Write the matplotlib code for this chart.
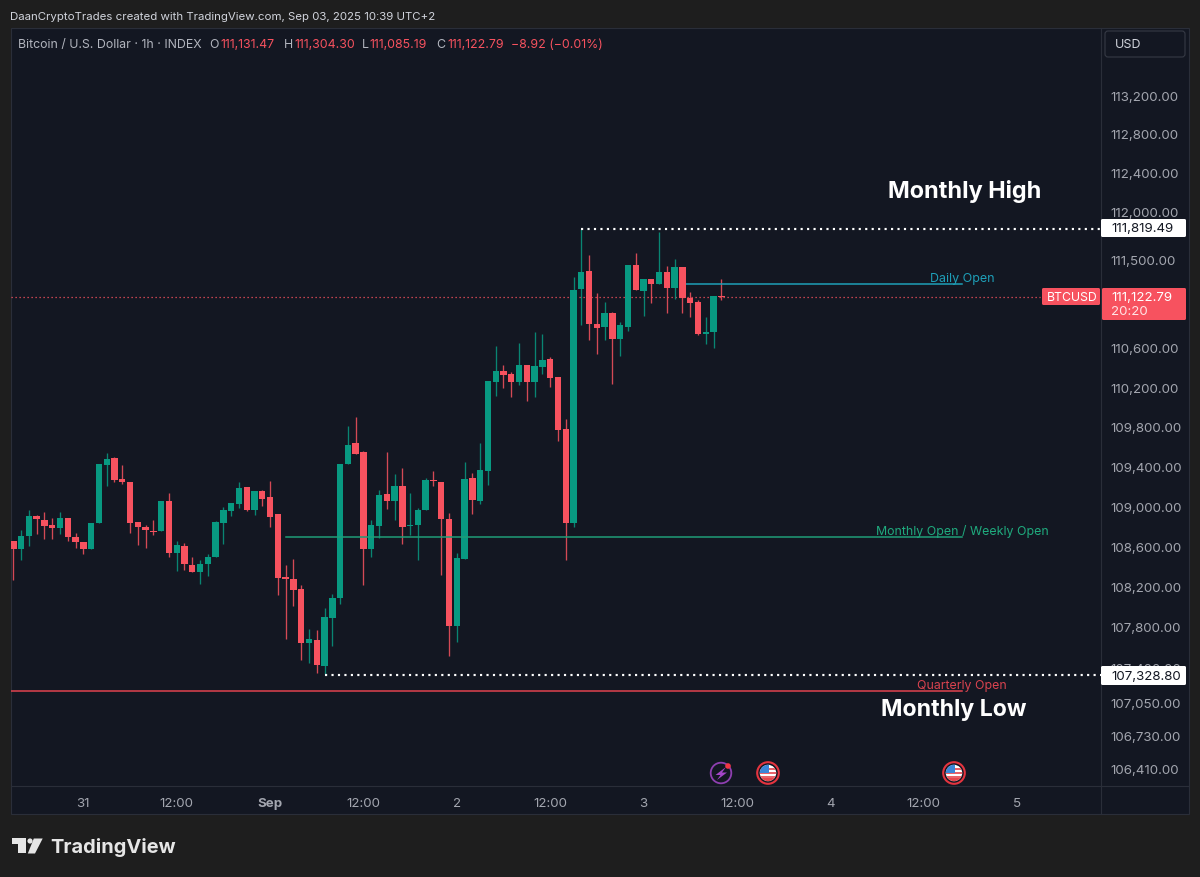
import numpy as np
import matplotlib
matplotlib.use("Agg")
import matplotlib.pyplot as plt
from matplotlib.patches import Rectangle, Circle, Polygon, FancyBboxPatch

plt.rcParams["font.family"] = ["Inter", "DejaVu Sans"]

W, H = 1200, 878
BG = "#1e1e1e"
PANE = "#131722"
BORDER = "#2a2e39"
UP = "#089981"
DOWN = "#f7525f"
TXT = "#a3a6af"

# 1h candles, Aug 30 15:00 to Sep 3 10:00 (index 9 = Aug 31 00:00)
opens = [108651, 108574, 108704, 108901, 108867, 108817, 108781, 108884, 108697, 108641,
         108574, 108831, 109416, 109483, 109272, 109248, 108844, 108797, 108757, 108751,
         109054, 108537, 108604, 108414, 108344, 108427, 108494, 108831, 108954, 109021,
         109191, 108964, 109157, 109091, 108921, 108291, 108275, 108173, 107640, 107673,
         107417, 107888, 108090, 109429, 109633, 109549, 108574, 108807, 109124, 109057,
         109204, 108804, 108811, 108961, 109264, 109249, 108877, 107808, 108474, 109281,
         109057, 109355, 110256, 110365, 110337, 110256, 110425, 110253, 110408, 110483,
         110304, 109774, 108831, 111199, 111384, 110844, 110813, 110955, 110690, 110813,
         111445, 111179, 111298, 111247, 111377, 111209, 111425, 111108, 111067, 110744,
         110761, 111131.47]
highs = [108651, 108761, 108964, 108914, 108944, 108881, 108944, 108884, 108737, 108641,
         108837, 109423, 109534, 109493, 109416, 109248, 108844, 108814, 108864, 109054,
         109131, 108651, 108631, 108497, 108461, 108521, 108854, 108997, 109031, 109241,
         109197, 109157, 109164, 109254, 108921, 108414, 108474, 108215, 107782, 107770,
         107985, 108123, 109429, 109810, 109900, 109556, 108861, 109161, 109546, 109324,
         109381, 109131, 108987, 109284, 109357, 109249, 108939, 108531, 109448, 109331,
         109640, 110263, 110621, 110425, 110351, 110645, 110425, 110758, 110738, 110503,
         110304, 109881, 111319, 111819.49, 111550, 111155, 111070, 110968, 110867, 111445,
         111570, 111304, 111298, 111781, 111435, 111510, 111425, 111172, 111087, 110912,
         111129, 111304.30]
lows = [108265, 108464, 108604, 108721, 108671, 108677, 108721, 108657, 108581, 108521,
        108574, 108831, 109205, 109245, 109225, 108737, 108614, 108581, 108717, 108751,
        108497, 108354, 108361, 108341, 108228, 108304, 108494, 108624, 108904, 108981,
        108957, 108914, 109004, 108797, 108113, 107683, 108010, 107472, 107440, 107340,
        107328.80, 107613, 108024, 109429, 109523, 108212, 108491, 108681, 108971, 108864,
        108624, 108714, 108467, 108961, 109204, 108319, 107516, 107647, 108474, 108927,
        109027, 109214, 110112, 110189, 110105, 110223, 110061, 110099, 110331, 110200,
        109657, 108464, 108797, 110834, 110680, 110535, 110677, 110234, 110517, 110772,
        111192, 110925, 111060, 111247, 110952, 111101, 110952, 110912, 110731, 110639,
        110595, 111085.19]
closes = [108574, 108707, 108904, 108871, 108807, 108781, 108884, 108694, 108641, 108574,
          108837, 109423, 109479, 109262, 109245, 108837, 108794, 108764, 108747, 109054,
          108534, 108611, 108421, 108341, 108427, 108497, 108844, 108967, 109031, 109184,
          108964, 109157, 109074, 108897, 108281, 108278, 108166, 107640, 107680, 107420,
          107897, 108090, 109429, 109616, 109530, 108577, 108814, 109114, 109054, 109201,
          108791, 108817, 108961, 109267, 109254, 108874, 107808, 108484, 109274, 109064,
          109365, 110263, 110367, 110324, 110256, 110428, 110256, 110415, 110473, 110297,
          109764, 108831, 111192, 111377, 110844, 110806, 110955, 110690, 110834, 111445,
          111192, 111304, 111247, 111377, 111209, 111425, 111105, 111060, 110738, 110761,
          111129, 111122.79]

price_ticks = [113200, 112800, 112400, 112000, 111500, 110600, 110200, 109800, 109400,
               109000, 108600, 108200, 107800, 107400, 107050, 106730, 106410]
time_ticks = [9, 21, 33, 45, 57, 69, 81, 93, 105, 117, 129]
time_labels = ["31", "12:00", "Sep", "12:00", "2", "12:00", "3", "12:00", "4", "12:00", "5"]

month_high = 111819.49
month_low = 107328.80
last_price = 111122.79
daily_open = 111256
monthly_open = 108699
quarterly_open = 107171

fig = plt.figure(figsize=(W / 100, H / 100), dpi=100, facecolor=BG)


def pixel_axes(z):
    a = fig.add_axes([0, 0, 1, 1], zorder=z)
    a.set_xlim(0, W)
    a.set_ylim(H, 0)
    a.axis("off")
    return a


# panels behind the chart
back = pixel_axes(0)
back.add_patch(Rectangle((11, 29), 1178, 786, fc=PANE, ec=BORDER, lw=0.8))
back.plot([1101, 1101], [29, 815], color=BORDER, lw=0.8)
back.plot([11, 1189], [787, 787], color=BORDER, lw=0.8)

L, R, T, B = 11, 1101, 29, 787
ax = fig.add_axes([L / W, 1 - B / H, (R - L) / W, (B - T) / H], zorder=1)
ax.patch.set_alpha(0)
ax.set_yscale("log")
ax.set_xlim(-0.3, 139.8)
ax.set_ylim(106235, 113900)

idx = np.arange(len(opens))
o, h, l, c = map(np.array, (opens, highs, lows, closes))
colors = [UP if cc >= oo else DOWN for oo, cc in zip(o, c)]
ax.vlines(idx, l, h, colors=colors, lw=0.95, alpha=0.85, zorder=2)
ax.bar(idx, np.maximum(np.abs(c - o), 8), bottom=np.minimum(o, c), width=0.82,
       color=colors, linewidth=0, zorder=3)

# levels
dots = (0, (1, 2))
ax.plot([73, 139.8], [month_high] * 2, color="white", lw=1.55, ls=dots, zorder=4)
ax.plot([40, 139.8], [month_low] * 2, color="white", lw=1.55, ls=dots, zorder=4)
ax.plot([86, 121.9], [daily_open] * 2, color="#1e9fb8", lw=1.1, zorder=2.5)
ax.plot([35, 121.9], [monthly_open] * 2, color="#1f9d78", lw=1.1, zorder=4)
ax.plot([-0.3, 121.9], [quarterly_open] * 2, color="#e0434f", lw=1.1, zorder=4)
ax.plot([-0.3, 132], [last_price] * 2, color=DOWN, lw=0.9, ls=(0, (1, 2.2)), zorder=1)

ax.yaxis.tick_right()
ax.set_yticks(price_ticks)
ax.set_yticklabels([f"{p:,.2f}" for p in price_ticks])
ax.minorticks_off()
ax.set_xticks(time_ticks)
ax.set_xticklabels(time_labels)
ax.tick_params(length=0, colors=TXT, labelsize=9.6)
ax.tick_params(axis="y", pad=7)
ax.tick_params(axis="x", pad=8)
ax.get_xticklabels()[2].set_fontweight("bold")
for spine in ax.spines.values():
    spine.set_visible(False)

# everything on top of the chart, in pixels
top = pixel_axes(2)


def label(x, y, s, color=TXT, size=9.2, ha="left", weight="normal"):
    top.text(x, y + 1, s, color=color, fontsize=size, ha=ha, va="center", fontweight=weight, zorder=6)


label(10, 16, "DaanCryptoTrades created with TradingView.com, Sep 03, 2025 10:39 UTC+2",
      color="#d1d4dc", size=8.25)
label(18, 44, "Bitcoin / U.S. Dollar · 1h · INDEX", color="#b2b5be", size=8.85)
for x, s in [(209, "O"), (284, "H"), (362, "L"), (436, "C")]:
    label(x, 44, s, color="#b2b5be", size=8.9)
for x, s in [(220, "111,131.47"), (294, "111,304.30"), (369.5, "111,085.19"), (447, "111,122.79"),
             (511, "−8.92 (−0.01%)")]:
    label(x, 44, s, color=DOWN, size=8.9)

label(965, 191, "Monthly High", color="white", size=16.9, ha="center", weight="bold")
label(954, 709, "Monthly Low", color="white", size=16.6, ha="center", weight="bold")
label(962, 278, "Daily Open", color="#1e9fb8", size=9.0, ha="center")
label(962, 531, "Monthly Open / Weekly Open", color="#1fab7e", size=8.9, ha="center")
label(962, 685, "Quarterly Open", color="#d9434f", size=8.9, ha="center")


def tag(x, y, w, h, color):
    top.add_patch(FancyBboxPatch((x + 1.5, y + 1.5), w - 3, h - 3, boxstyle="round,pad=1.5",
                                 fc=color, ec="none", zorder=5))


tag(1101, 220, 85, 18, "white")
label(1111, 228.5, "111,819.49", color="#131722", size=9.6)
tag(1101, 667, 85, 19, "white")
label(1111, 676, "107,328.80", color="#131722", size=9.6)
tag(1042, 289, 58, 17, DOWN)
label(1047, 297, "BTCUSD", color="white", size=8.8)
tag(1102, 289, 84, 32, DOWN)
label(1111, 297, "111,122.79", color="white", size=9.6)
label(1111, 311, "20:20", color="#ffe3e5", size=9.6)

top.add_patch(FancyBboxPatch((1108, 35), 74, 20, boxstyle="round,pad=3", fc=PANE, ec="#363a45", lw=0.8))
label(1115, 44.5, "USD", color="#d1d4dc", size=9.0)


def flag(x, y):
    top.add_patch(Circle((x, y), 10.8, fc="#131722", ec="#e5343f", lw=1.5, zorder=5))
    top.add_patch(Circle((x, y), 8.2, fc="white", ec="none", zorder=5))
    clip = Circle((x, y), 8.2, transform=top.transData)
    for k in (-5, -1, 3):
        top.add_patch(Rectangle((x - 9, y + k), 18, 2, fc="#e8636a", ec="none", zorder=6, clip_path=clip))
    top.add_patch(Rectangle((x - 9, y + 5), 18, 4, fc="#e5484d", ec="none", zorder=6, clip_path=clip))
    top.add_patch(Rectangle((x - 9, y - 9), 9.5, 9, fc="#3b86d8", ec="none", zorder=7, clip_path=clip))


flag(768, 774)
flag(954, 774)

# bolt marker
top.add_patch(Circle((721, 774), 10.3, fc="none", ec="#8e3fb0", lw=1.3, zorder=5))
top.add_patch(Polygon([(726, 768), (715.5, 776), (720.5, 776), (717, 781), (727, 773.5), (722, 773.5)],
                      fc="#a445c8", ec="none", zorder=6))
top.add_patch(Circle((728, 767), 2.8, fc="#f23645", ec="none", zorder=7))

# TradingView logo
logo = "#e6e6e6"
top.add_patch(Polygon([(12.3, 839.5), (26, 839.5), (26, 854.5), (18.3, 854.5), (18.3, 844.7), (12.3, 844.7)],
                      fc=logo, ec="none"))
top.add_patch(Circle((30, 842), 2.6, fc=logo, ec="none"))
top.add_patch(Polygon([(33.8, 839.5), (42.7, 839.5), (35, 854.5), (27.8, 854.5)], fc=logo, ec="none"))
label(50.5, 846.5, "TradingView", color=logo, size=14.4, weight="bold")

fig.savefig("out.png", dpi=100, facecolor=BG)
